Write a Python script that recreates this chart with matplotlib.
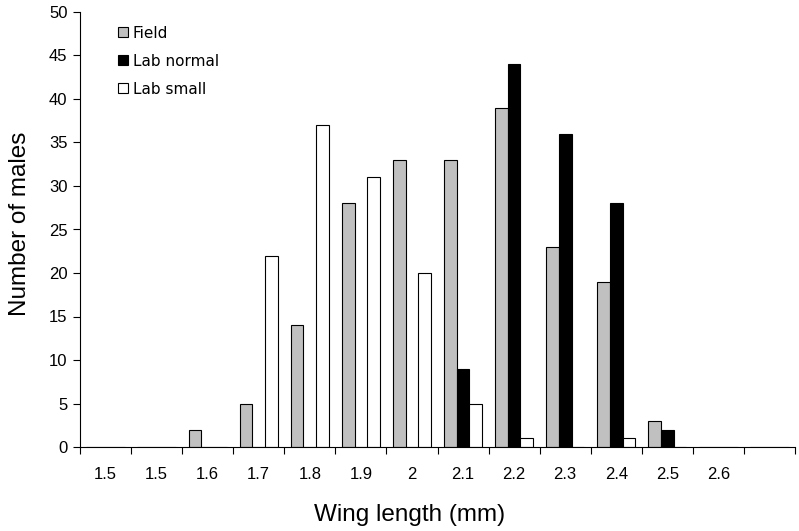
import numpy as np
import matplotlib
matplotlib.use("Agg")
import matplotlib.pyplot as plt
from matplotlib.patches import Rectangle

# --- DATA ---
wing_labels = ["1.5", "1.5", "1.6", "1.7", "1.8", "1.9", "2", "2.1", "2.2", "2.3", "2.4", "2.5", "2.6", ""]
field = [0, 0, 2, 5, 14, 28, 33, 33, 39, 23, 19, 3, 0, 0]
lab_normal = [0, 0, 0, 0, 0, 0, 0, 9, 44, 36, 28, 2, 0, 0]
lab_small = [0, 0, 0, 22, 37, 31, 20, 5, 1, 0, 1, 0, 0, 0]
series_names = ["Field", "Lab normal", "Lab small"]
series_colors = ["#c0c0c0", "#000000", "#ffffff"]

plt.rcParams['font.family'] = ['Liberation Sans', 'DejaVu Sans']

fig = plt.figure(figsize=(7.99, 5.31), dpi=100)
ax = fig.add_axes([80/799, 1-447/531, 715/799, 435/531])

x = np.arange(len(wing_labels))
w = 0.25
for k, (vals, col) in enumerate(zip([field, lab_normal, lab_small], series_colors)):
    ax.bar(x + (k-1)*w, vals, width=w, color=col, edgecolor="black", linewidth=0.8, zorder=2)

ax.set_xlim(-0.5, len(wing_labels)-0.5)
ax.set_ylim(0, 50)
ax.set_yticks(range(0, 51, 5))
ax.tick_params(axis='y', labelsize=12, length=5, width=0.8, pad=4)

# labels centred in categories, ticks on category boundaries
ax.set_xticks(x)
ax.set_xticklabels(wing_labels)
ax.set_xticks(np.arange(len(wing_labels)+1) - 0.5, minor=True)
ax.tick_params(axis='x', which='major', length=0, labelsize=12, pad=14.5)
ax.tick_params(axis='x', which='minor', length=5, width=0.8)

for s in ['top', 'right']:
    ax.spines[s].set_visible(False)
for s in ['left', 'bottom']:
    ax.spines[s].set_linewidth(0.8)

fig.text(20/799, 1-224/531, "Number of males", rotation=90, ha='center', va='center', fontsize=17.5)
fig.text(410/799, 1-515/531, "Wing length (mm)", ha='center', va='center', fontsize=17.5)

handles = [Rectangle((0, 0), 1, 1, facecolor=c, edgecolor='black', linewidth=0.8) for c in series_colors]
ax.legend(handles, series_names, loc='upper left', bbox_to_anchor=(27/715, 1 - 3/435), frameon=False,
          prop={'family': 'DejaVu Sans', 'size': 11}, handlelength=0.65, handleheight=0.65,
          handletextpad=0.35, labelspacing=0.85, borderaxespad=0.3)

fig.savefig("out.png", dpi=100)
